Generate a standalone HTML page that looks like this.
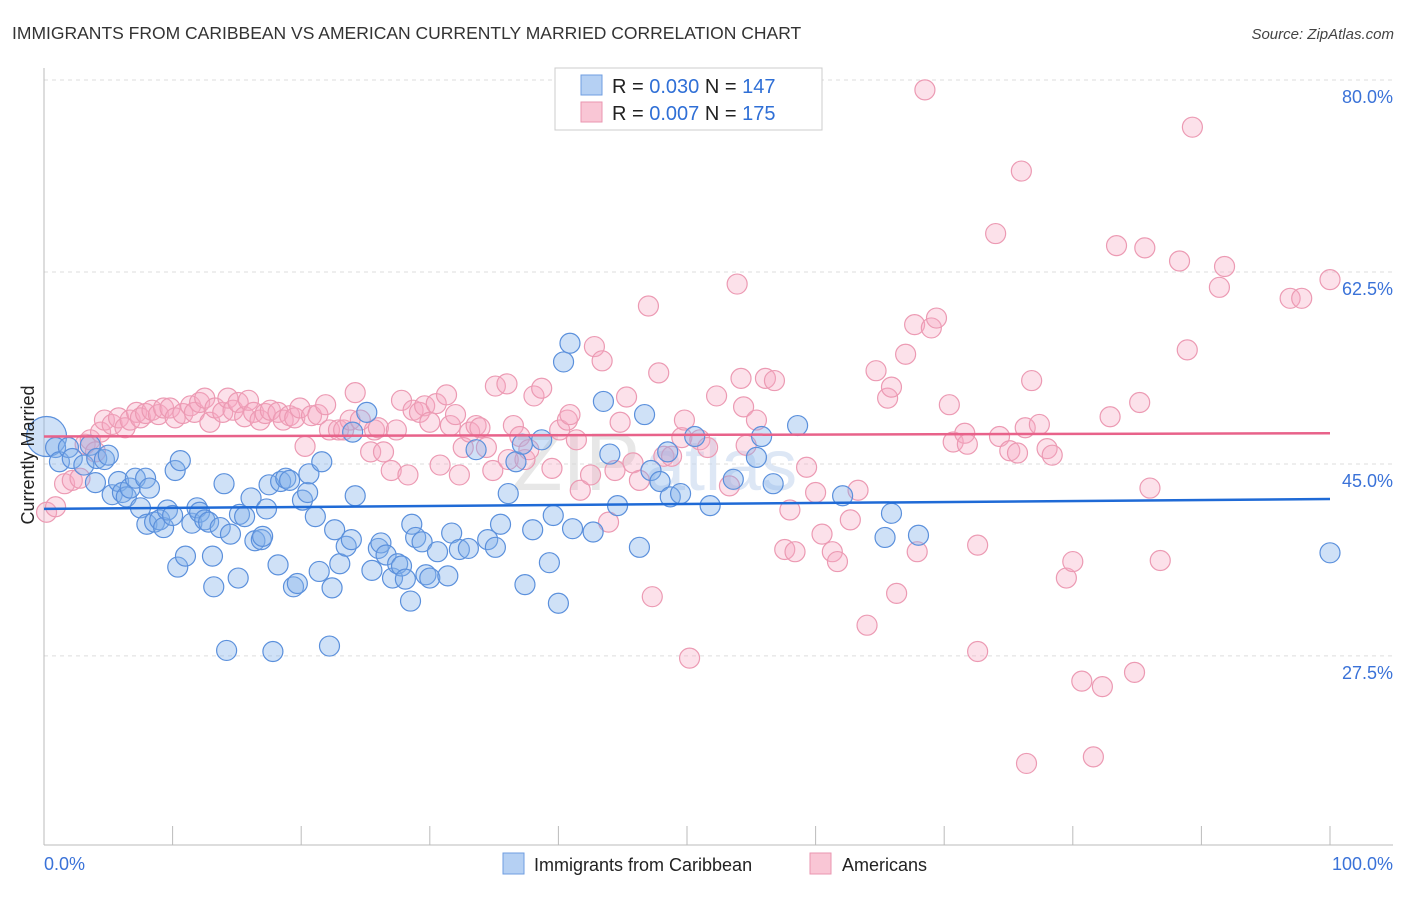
<!DOCTYPE html>
<html><head><meta charset="utf-8"><style>
body{margin:0;background:#fff;font-family:"Liberation Sans",sans-serif;}
svg text{font-family:"Liberation Sans",sans-serif;}
</style></head><body>
<svg id="chart" width="1406" height="892" viewBox="0 0 1406 892" xmlns="http://www.w3.org/2000/svg">
<text x="12" y="39" font-size="17.5" fill="#333">IMMIGRANTS FROM CARIBBEAN VS AMERICAN CURRENTLY MARRIED CORRELATION CHART</text>
<text x="1394" y="39" font-size="15" fill="#444" font-style="italic" text-anchor="end">Source: ZipAtlas.com</text>
<g id="grid"></g>
<g id="axes"></g>
<text x="640" y="490" font-size="82" fill="#d8d8d8" font-family="Liberation Serif" text-anchor="end" opacity="0.6">ZIP</text>
<text x="645" y="490" font-size="72" fill="#c8d8f0" opacity="0.6">atlas</text>
<g id="pts"></g>
<g id="trend"></g>
<text transform="translate(34,455) rotate(-90)" font-size="18" fill="#222" text-anchor="middle">Currently Married</text>
<g>
<rect x="555" y="68" width="267" height="62" fill="#fff" stroke="#ccc"/>
<rect x="581" y="75" width="21" height="20" fill="#b5d0f3" stroke="#6f9ee0"/>
<text x="612" y="93" font-size="20" fill="#222">R = <tspan fill="#2f6fd6">0.030</tspan>   N = <tspan fill="#2f6fd6">147</tspan></text>
<rect x="581" y="102" width="21" height="20" fill="#f9c6d5" stroke="#ea96b0"/>
<text x="612" y="120" font-size="20" fill="#222">R = <tspan fill="#2f6fd6">0.007</tspan>   N = <tspan fill="#2f6fd6">175</tspan></text>
</g>
<g>
<rect x="503" y="853" width="21" height="21" fill="#b5d0f3" stroke="#6f9ee0"/>
<text x="534" y="871" font-size="18" fill="#222">Immigrants from Caribbean</text>
<rect x="810" y="853" width="21" height="21" fill="#f9c6d5" stroke="#ea96b0"/>
<text x="842" y="871" font-size="18" fill="#222">Americans</text>
</g>
</svg>
<script>
const yTicks=[80,62.5,45,27.5];
const yTickLabels=["80.0%","62.5%","45.0%","27.5%"];
const xTicks=[0,10,20,30,40,50,60,70,80,90,100];
const xEndLabels=["0.0%","100.0%"];
const blueX=[0.2,0.9,1.2,1.9,2.2,3.1,3.6,4.0,4.1,4.7,5.0,5.3,5.8,6.1,6.4,6.7,7.1,7.5,7.9,8.2,8.0,8.6,9.0,9.3,9.6,10.0,10.2,10.6,10.4,11.0,11.5,11.9,12.1,12.5,12.8,13.1,13.2,13.7,14.0,14.2,14.5,15.1,15.2,15.6,16.1,16.4,16.9,17.0,17.3,17.5,17.8,18.2,18.4,18.8,19.1,19.4,19.7,20.1,20.5,20.6,21.1,21.4,21.6,22.2,22.4,22.6,23.0,23.5,23.9,24.2,24.0,25.1,25.5,26.0,26.2,26.6,27.1,27.5,27.8,28.1,28.5,28.6,28.9,29.4,29.7,30.0,30.6,31.4,31.7,32.3,33.0,33.6,34.5,35.1,35.5,36.1,36.7,37.2,37.4,38.0,38.7,39.3,39.6,40.0,40.4,40.9,41.1,42.7,43.5,44.0,44.6,46.3,46.7,47.2,47.9,48.5,48.7,49.5,50.6,51.8,53.6,55.4,55.8,56.7,58.6,62.1,65.4,65.9,68.0,100];
const blueY=[47.5,46.5,45.2,46.5,45.5,44.9,46.7,43.3,45.5,45.4,45.8,42.2,43.4,42.4,42.0,42.8,43.7,41.0,43.7,42.8,39.5,39.7,39.9,39.2,40.8,40.3,44.4,45.3,35.6,36.6,39.6,41.0,40.6,39.9,39.7,36.6,33.8,39.2,43.2,28.0,38.6,34.6,40.4,40.2,41.9,38.0,38.1,38.4,40.9,43.1,27.9,35.8,43.4,43.7,43.5,33.8,34.1,41.7,42.4,44.1,40.2,35.2,45.2,28.4,33.7,39.0,35.9,37.5,38.1,42.1,47.9,49.7,35.3,37.3,37.8,36.7,34.6,35.9,35.7,34.5,32.5,39.5,38.3,37.9,34.9,34.6,37.0,34.8,38.7,37.2,37.3,46.3,38.1,37.4,39.5,42.3,45.2,46.8,34.0,39.0,47.2,36.0,40.3,32.3,54.3,56.0,39.1,38.8,50.7,45.9,41.2,37.4,49.5,44.4,43.4,46.1,42.0,42.3,47.5,41.2,43.6,45.6,47.5,43.2,48.5,42.1,38.3,40.5,38.5,36.9];
const pinkX=[0.2,0.9,1.6,2.2,2.8,3.2,3.6,4.0,4.4,4.7,5.3,5.8,6.3,6.7,7.2,7.5,7.9,8.4,8.9,9.3,9.8,10.2,10.8,11.4,11.7,12.1,12.5,12.9,13.3,13.9,14.3,14.7,15.1,15.6,15.9,16.3,16.8,17.2,17.6,18.2,18.6,19.1,19.5,19.9,20.3,20.8,21.3,21.9,22.2,22.9,23.3,23.8,24.2,24.6,25.4,25.7,26.0,26.4,27.0,27.4,27.8,28.3,28.7,29.2,29.6,30.0,30.5,30.8,31.3,31.6,32.0,32.3,32.6,33.1,33.6,33.9,34.4,34.9,35.1,36.0,36.1,36.5,37.0,37.4,37.7,38.1,38.7,39.5,40.1,40.7,40.9,41.4,41.7,42.5,42.8,43.4,43.9,44.4,44.8,45.3,45.8,46.3,47.0,47.3,47.8,48.2,48.8,49.6,49.8,50.2,51.0,51.6,52.3,53.3,53.9,54.2,54.4,54.6,55.4,56.1,56.8,57.6,58.0,58.4,59.3,60.0,60.5,61.3,61.7,62.7,63.3,64.0,64.7,65.6,65.9,66.3,67.0,67.7,67.9,68.5,69.0,69.4,70.4,70.7,71.6,71.8,72.6,72.6,74.0,74.3,75.1,75.7,76.0,76.3,76.8,77.4,78.0,78.4,79.5,80.0,80.7,82.3,81.6,82.9,83.4,85.2,85.6,84.8,86.0,86.8,88.3,88.9,89.3,91.4,91.8,96.9,97.8,100,76.4];
const pinkY=[40.6,41.1,43.2,43.5,43.7,46.8,47.2,46.1,47.9,49.0,48.6,49.2,48.3,49.0,49.7,49.2,49.6,49.9,49.5,50.1,50.1,49.2,49.6,50.3,49.7,50.6,51.0,48.8,50.1,49.7,51.0,49.9,50.6,49.3,50.8,49.7,49.0,49.6,49.9,49.7,49.0,49.4,49.2,50.1,46.6,49.4,49.5,50.4,48.1,48.1,48.1,49.0,51.5,49.0,46.1,48.1,48.3,46.1,44.4,48.1,50.8,44.0,49.9,49.7,50.3,48.8,50.5,44.9,51.3,48.5,49.5,44.0,46.5,47.9,48.5,48.3,46.5,44.4,52.1,52.3,45.4,48.5,47.5,45.4,46.3,51.2,51.9,44.6,48.1,49.0,49.5,47.2,42.6,44.0,55.7,54.4,39.7,44.4,48.8,51.1,45.1,43.5,59.4,32.9,53.3,45.7,45.7,47.4,49.0,27.3,47.2,46.5,51.2,43.0,61.4,52.8,50.2,46.7,49.0,52.8,52.6,37.2,40.8,37.0,44.7,42.4,38.6,37.0,36.1,39.9,42.6,30.3,53.5,51.0,52.0,33.2,55.0,57.7,37.0,79.1,57.4,58.3,50.4,47.0,47.8,46.8,27.9,37.6,66.0,47.5,46.2,46.0,71.7,48.3,52.6,48.6,46.4,45.8,34.6,36.1,25.2,24.7,18.3,49.3,64.9,50.6,64.7,26.0,42.8,36.2,63.5,55.4,75.7,61.1,63.0,60.1,60.1,61.8,17.7];
const blueTrend=[40.9,41.8];
const pinkTrend=[47.5,47.8];

const NS="http://www.w3.org/2000/svg";
const X0=44,X1=1330;
function sx(v){return X0+(X1-X0)*v/100;}
function sy(v){return 80+(80-v)*10.97;}
function mk(tag,attrs,parent){const e=document.createElementNS(NS,tag);for(const k in attrs)e.setAttribute(k,attrs[k]);parent.appendChild(e);return e;}
const grid=document.getElementById('grid'),axes=document.getElementById('axes'),pts=document.getElementById('pts'),trend=document.getElementById('trend');
yTicks.forEach((t,i)=>{
  const l=mk('line',{x1:X0,x2:1393,y1:sy(t),y2:sy(t),stroke:'#ddd','stroke-dasharray':'4,4'},grid);
  
  
  const tx=mk('text',{x:1393,y:sy(t)+23,'font-size':18,fill:'#3a72d8','text-anchor':'end'},grid);
  tx.textContent=yTickLabels[i];
  
  
});
const ya=mk('line',{x1:X0,x2:X0,y1:68,y2:845,stroke:'#bbb'},axes);


const xa=mk('line',{x1:X0,x2:1393,y1:845,y2:845,stroke:'#bbb'},axes);


xTicks.forEach(t=>{
  const l=mk('line',{x1:sx(t),x2:sx(t),y1:826,y2:845,stroke:'#bbb'},axes);
  
  
});
const xl0=mk('text',{x:44,y:870,'font-size':18,fill:'#3a72d8'},axes);
xl0.textContent=xEndLabels[0];


const xl1=mk('text',{x:1393,y:870,'font-size':18,fill:'#3a72d8','text-anchor':'end'},axes);
xl1.textContent=xEndLabels[1];


function drawPts(xs,ys,fill,stroke,name){
  xs.forEach((x,i)=>{
    const r=(name==='point-caribbean'&&i===0)?20:10;
    const c=mk('circle',{cx:sx(x),cy:sy(ys[i]),r:r,fill:fill,stroke:stroke,'stroke-width':1.2},pts);
    
    
  });
}
drawPts(pinkX,pinkY,'rgba(245,170,195,0.35)','#ec9ab3','point-americans');
drawPts(blueX,blueY,'rgba(130,175,235,0.38)','#5b90dc','point-caribbean');
const bt=mk('line',{x1:sx(0),x2:sx(100),y1:sy(blueTrend[0]),y2:sy(blueTrend[1]),stroke:'#1f6ad6','stroke-width':2.5},trend);


const pt=mk('line',{x1:sx(0),x2:sx(100),y1:sy(pinkTrend[0]),y2:sy(pinkTrend[1]),stroke:'#e8628a','stroke-width':2.5},trend);


</script>
</body></html>
